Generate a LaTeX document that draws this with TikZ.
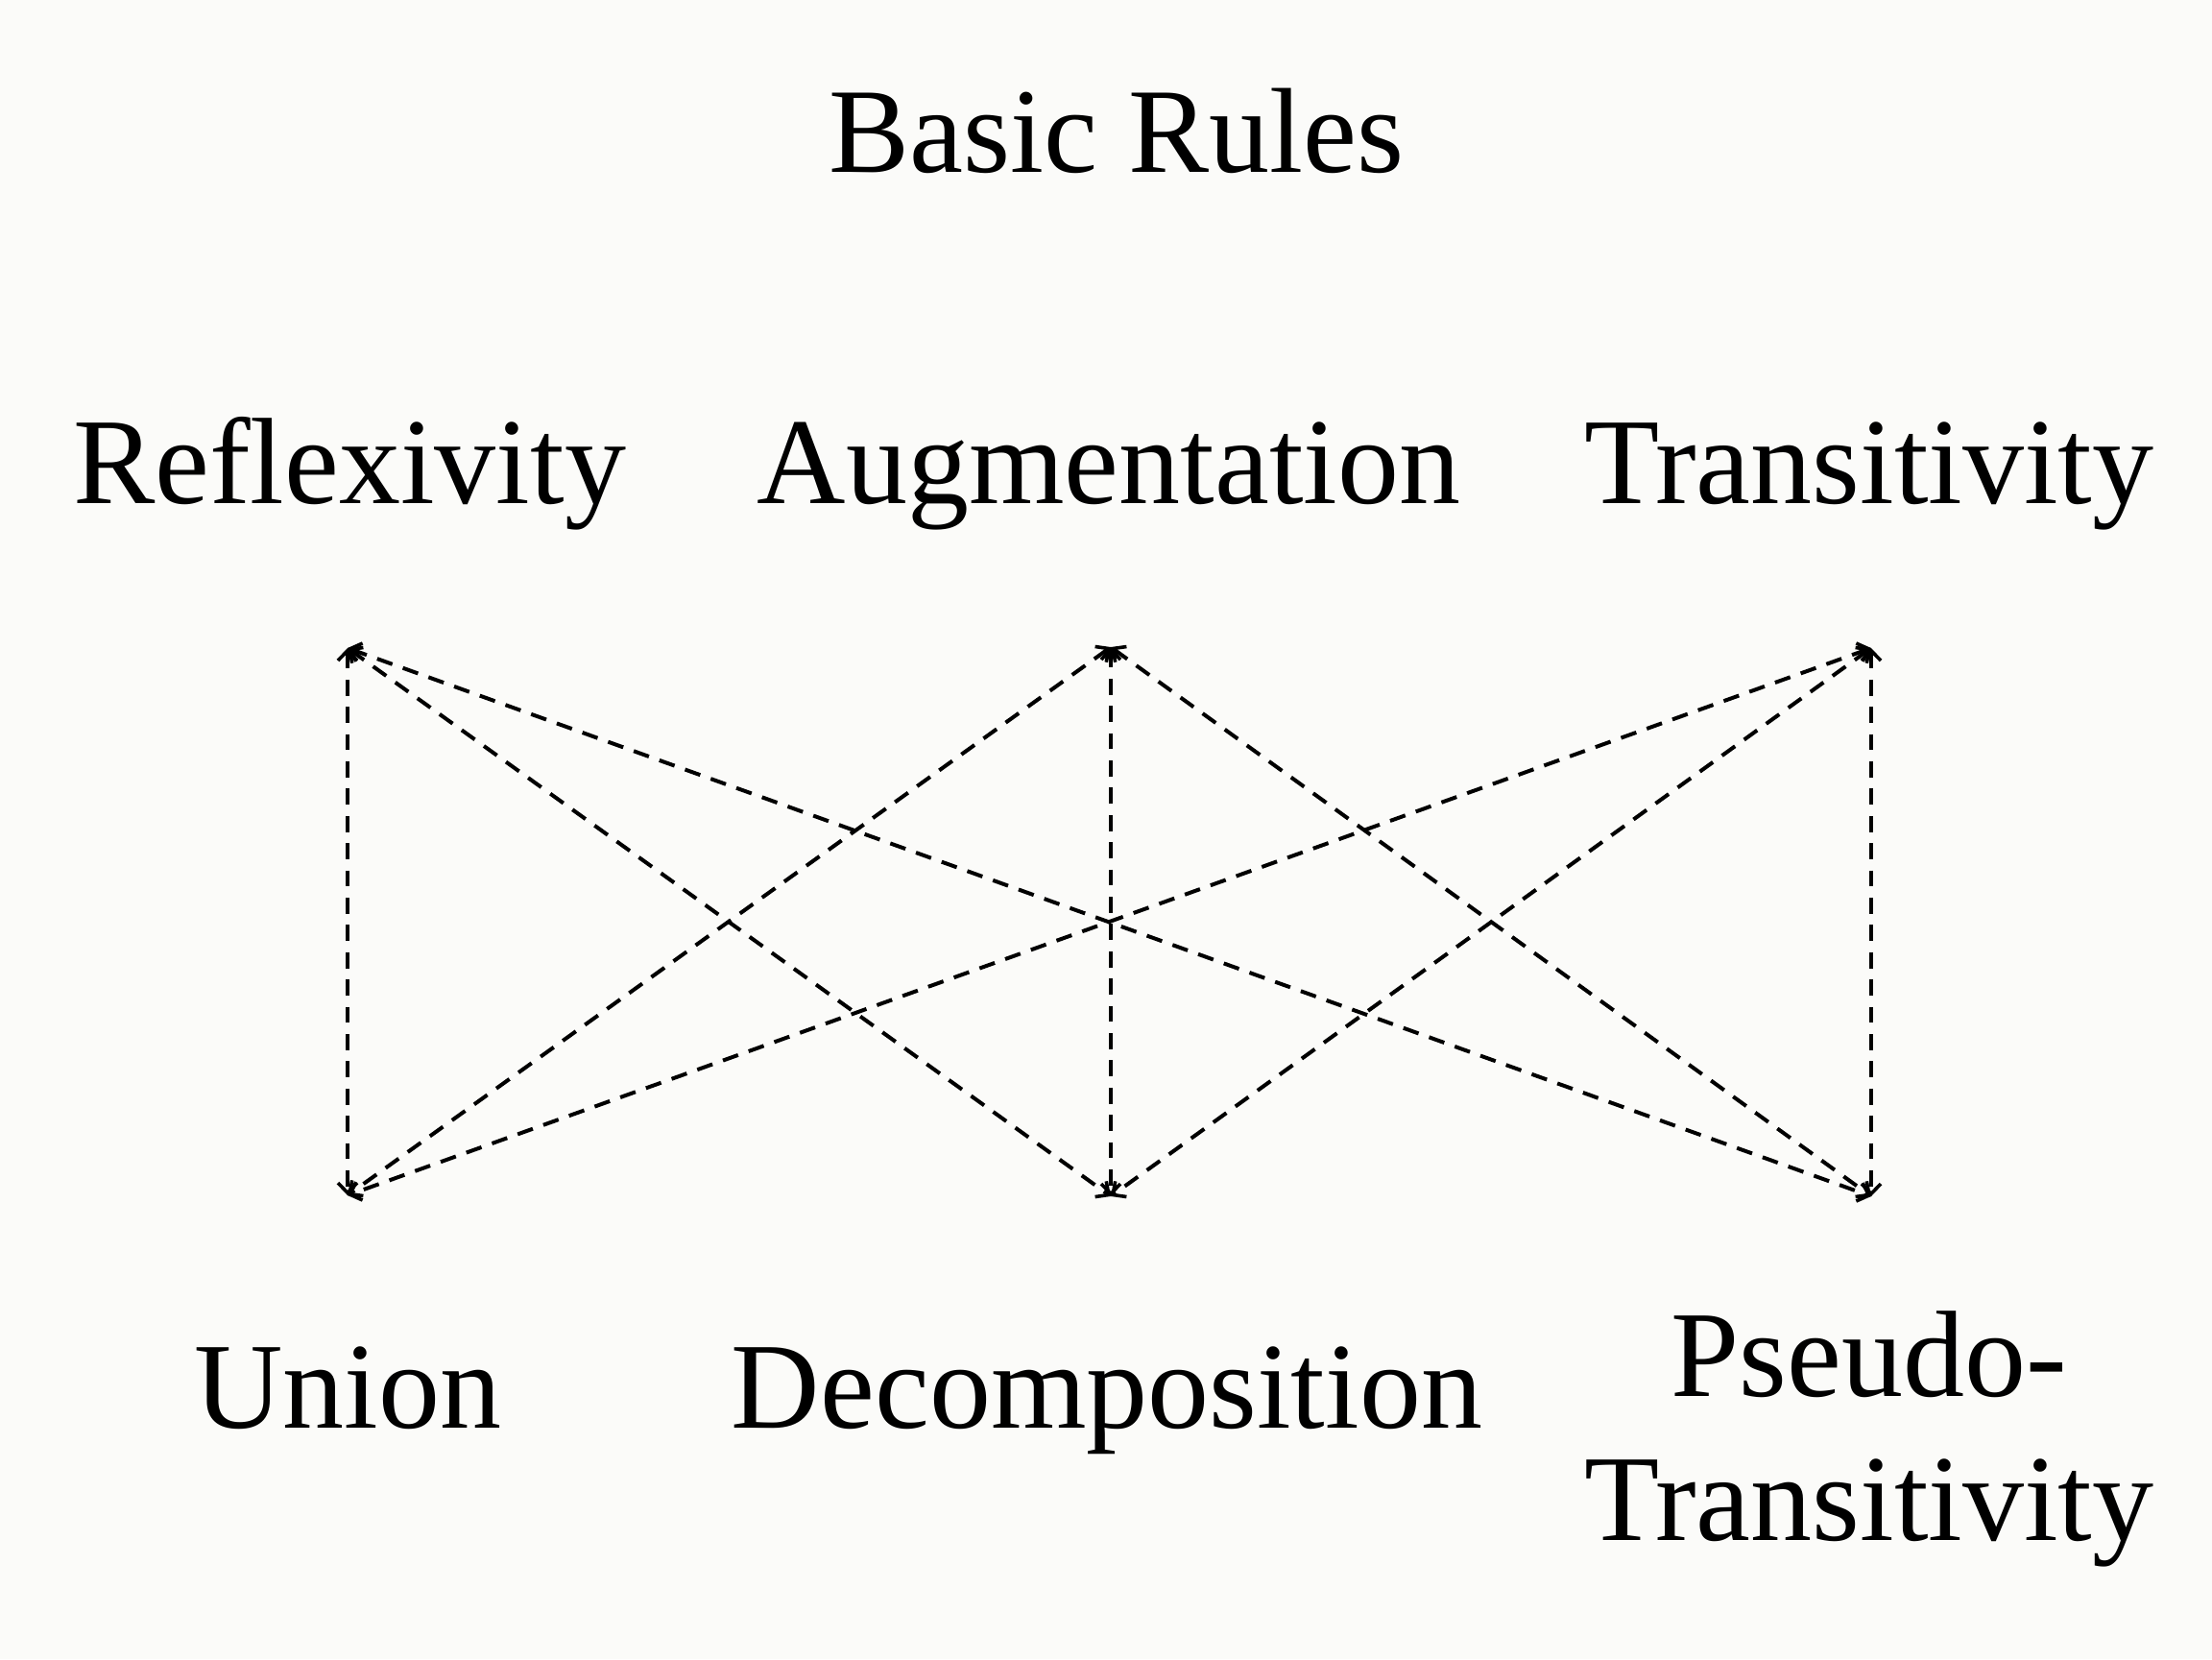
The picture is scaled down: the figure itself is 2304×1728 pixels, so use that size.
\documentclass[tikz,border=0pt]{standalone}
\usepackage{fontspec}
\setmainfont{Liberation Serif}
\usetikzlibrary{arrows.meta}
\definecolor{bg}{RGB}{251,251,249}
\tikzset{
  lbl/.style={anchor=base, inner sep=0pt, font=\fontsize{32}{37.5}\selectfont},
  ttl/.style={anchor=base, inner sep=0pt, font=\fontsize{31.5}{38}\selectfont},
  link/.style={line width=1pt, dash pattern=on 4.2pt off 2.9pt, <->,
    >={Straight Barb[length=2.6pt,width=5pt,line width=0.9pt]}}
}
\begin{document}
\begin{tikzpicture}[x=0.25pt, y=-0.25pt]
\fill[bg] (0,0) rectangle (2304,1728);
\useasboundingbox (0,0) rectangle (2304,1728);
% title
\node[ttl] (title) at (1163,179) {Basic Rules};
% top labels
\node[lbl] (refl) at (364,524) {Reflexivity};
\node[lbl] (aug) at (1155,524) {Augmentation};
\node[lbl] (trans) at (1947,524) {Transitivity};
% bottom labels
\node[lbl] (union) at (362,1487) {Union};
\node[lbl] (decomp) at (1153,1487) {Decomposition};
\node[lbl, align=center] (pseudo) at (1947,1604) {Pseudo-\\Transitivity};
% corners
\coordinate (t1) at (362,675);
\coordinate (t2) at (1157,674);
\coordinate (t3) at (1949,675);
\coordinate (b1) at (362,1245);
\coordinate (b2) at (1157,1246);
\coordinate (b3) at (1949,1246);
% connectors
\foreach \t in {t1,t2,t3}{
  \foreach \b in {b1,b2,b3}{
    \draw[link] (\t) -- (\b);
  }
}
\end{tikzpicture}
\end{document}
